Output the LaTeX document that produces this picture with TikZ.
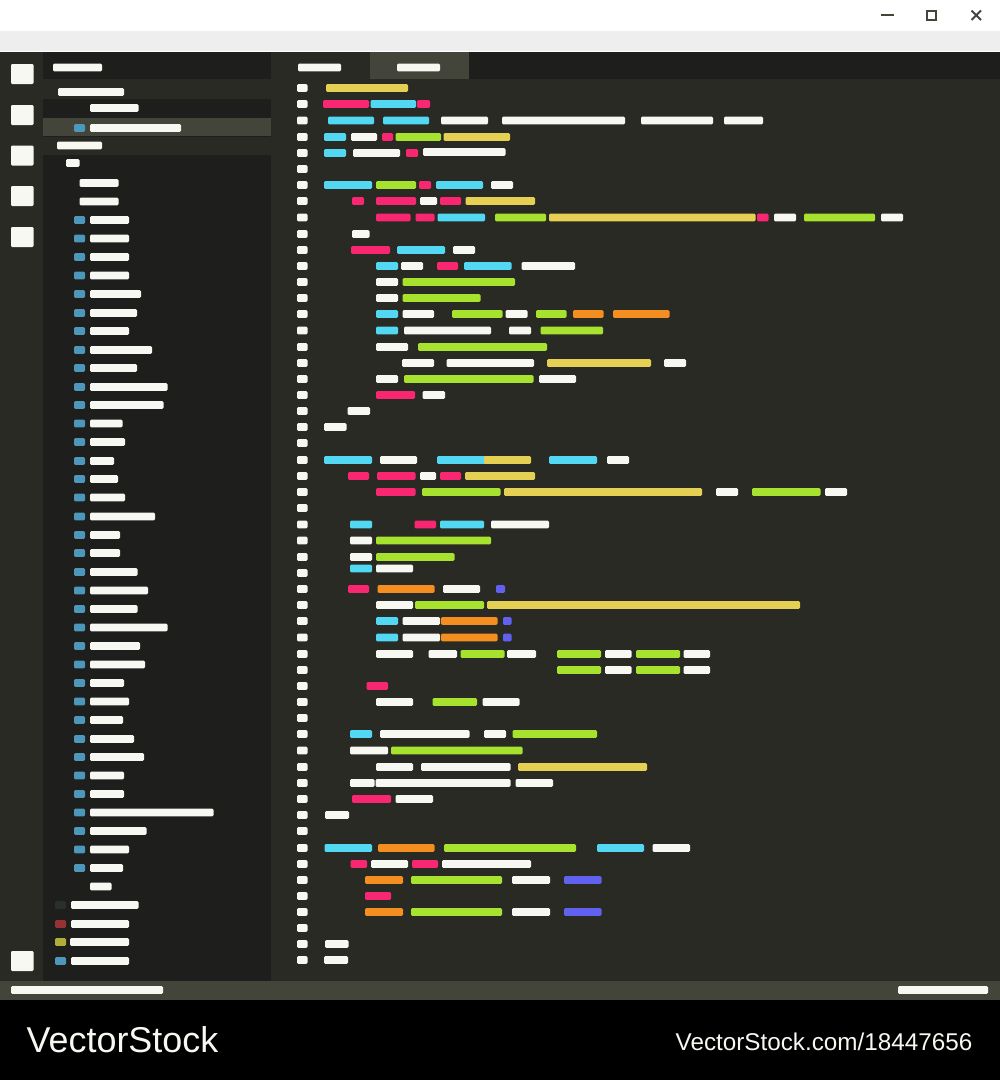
\documentclass[tikz,border=0pt]{standalone}
\usepackage{fontspec}
\setmainfont{Liberation Sans}
\definecolor{wht}{HTML}{F8F8F2}
\definecolor{pnk}{HTML}{F92672}
\definecolor{cyn}{HTML}{52D8F2}
\definecolor{grn}{HTML}{A6E22E}
\definecolor{ylw}{HTML}{E6D054}
\definecolor{org}{HTML}{F58E20}
\definecolor{blu}{HTML}{6161F0}
\definecolor{stl}{HTML}{4D97BA}
\definecolor{panel}{HTML}{292A24}
\definecolor{dark}{HTML}{1E1E1C}
\definecolor{hilite}{HTML}{43443A}
\definecolor{strip}{HTML}{EEEEEE}
\newcommand{\bars}[2]{\foreach \a/\b/\c in {#2} \fill[\c,rounded corners=1.2pt] (\a,#1-3.8) rectangle (\b,#1+3.8);}
\newcommand{\gut}[1]{\foreach \y in {#1} \fill[wht,rounded corners=1.2pt] (297,\y-3.8) rectangle (307.5,\y+3.8);}
\newcommand{\side}[2]{\foreach \y/\b in {#2} {\fill[stl,rounded corners=1.2pt] (74,\y-3.8) rectangle (85,\y+3.8);
  \fill[wht,rounded corners=1.2pt] (#1,\y-3.8) rectangle (\b,\y+3.8);}}
\begin{document}
\begin{tikzpicture}[x=1pt,y=-1pt]
\useasboundingbox (0,0) rectangle (1000,1080);
\tikzstyle{every node}=[inner sep=0pt,text=wht,anchor=base west]
\fill[white] (0,0) rectangle (1000,52);
\fill[strip] (0,31) rectangle (1000,50.5);
\fill[panel] (0,52) rectangle (1000,981);
\fill[dark] (43,52) rectangle (271,981);
\fill[dark] (469,52) rectangle (1000,79);
\fill[hilite] (370,52) rectangle (469,79);
\fill[panel] (43,79) rectangle (271,99);
\fill[hilite] (43,118) rectangle (271,136);
\fill[panel] (43,137) rectangle (271,155);
\fill[hilite] (0,981) rectangle (1000,1000);
\fill[black] (0,1000) rectangle (1000,1080);
\draw[hilite,line width=2pt] (880.5,15) -- (893.5,15);
\draw[hilite,line width=2pt] (926.5,10.5) rectangle (935.5,19.5);
\draw[hilite,line width=2pt] (971.5,10.5) -- (981,20)
      (981,10.5) -- (971.5,20);
\foreach \y in {74,115,155.5,196,237,961}
  \fill[wht,rounded corners=1.2pt] (11,\y-10) rectangle (33.5,\y+10);
\bars{67.5}{53/102/wht,298/341/wht,397/440/wht}
\bars{92}{58/124/wht}
\bars{108}{90/138.5/wht}
\bars{145.5}{57/102/wht}
\bars{163}{66/79.5/wht}
\bars{183}{79.5/118.5/wht}
\bars{201.5}{79.5/118.5/wht}
\side{90}{128/181,220/129,238.5/129,257/129,275.5/129,294/141,313/137,331/129,350/152,368/137,
  387/167.5,405/163.5,423.5/122.5,442/125,461/114,479/118,497.5/125,516.5/155,535/120,553/120,
  572/137.5,590.5/148,609/137.5,627.5/167.5,646/140,664.5/145,683/124,701.5/129,720/123,739/134,
  757/144,775.5/124,794/124,812.5/213.5,831/146.5,849.5/129,868/123}
\bars{886.5}{90/111.5/wht}
\definecolor{dot1}{HTML}{2B2F2C}\definecolor{dot2}{HTML}{963233}\definecolor{dot3}{HTML}{B0AE3A}
\bars{905}{55/66/dot1,71/138.5/wht}
\bars{924}{55/66/dot2,71/129/wht}
\bars{942}{55/66/dot3,70/129/wht}
\bars{961}{55/66/stl,71/129/wht}
\bars{990}{11/163/wht,898/988/wht}
\gut{88,104,120.5,137,153,169,185,201,217.5,234,250,266,282,298,314,330.5,347,363,379,395,411,427,443,
  460,476,492,508,524.5,540.5,557,573,589,605,621,637.5,654,670,686,702,718,734,750.5,767,783,799,815,831,
  848,864,880,896,912,928,944,960}
\bars{88}{326/408/ylw}
\bars{104}{323/369/pnk,370.5/416/cyn,417/430/pnk}
\bars{120.5}{328/374/cyn,383/429/cyn,441/488/wht,502/625/wht,641/713/wht,724/763/wht}
\bars{137}{324/346/cyn,351/377/wht,382/393/pnk,395.5/441/grn,443.5/510/ylw}
\bars{153}{324/346/cyn,353/400/wht,406/418/pnk}
\bars{152}{423/505.5/wht}
\bars{185}{324/372/cyn,376/416/grn,419/431/pnk,436/483/cyn,491/513/wht}
\bars{201}{352/364/pnk,376/416/pnk,420/437/wht,440/461/pnk,465.5/535/ylw}
\bars{217.5}{376/410.5/pnk,415.5/434.5/pnk,437.5/485/cyn,495/546/grn,549/755.5/ylw,757/768.5/pnk,774/796/wht,804/875/grn,881/903/wht}
\bars{234}{352/369.5/wht}
\bars{250}{351/390/pnk,397/445/cyn,453/475/wht}
\bars{266}{376/398/cyn,401/423/wht,437/458/pnk,464/511.5/cyn,521.5/575/wht}
\bars{282}{376/398/wht,402.5/515/grn}
\bars{298}{376/398/wht,402.5/480.5/grn}
\bars{314}{376/398/cyn,402.5/434/wht,452/502.5/grn,505.5/527.5/wht,536/566.5/grn,573/603.5/org,613/669.5/org}
\bars{330.5}{376/398/cyn,404/491/wht,509/531/wht,540.5/603/grn}
\bars{347}{376/408/wht,418/547/grn}
\bars{363}{402/434/wht,446.5/534/wht,547/651/ylw,664/686/wht}
\bars{379}{376/398/wht,404/533.5/grn,539/576/wht}
\bars{395}{376/415/pnk,422.5/445/wht}
\bars{411}{347.5/370/wht}
\bars{427}{324/346.5/wht}
\bars{460}{324/372/cyn,380/417/wht,437/486/cyn,484/531/ylw,549/597/cyn,607/629/wht}
\bars{476}{348/369/pnk,377/415.5/pnk,420/436/wht,440/461/pnk,465/535/ylw}
\bars{492}{376/415.5/pnk,422/500.5/grn,504/702/ylw,716/738/wht,752/820.5/grn,825/847/wht}
\bars{524.5}{350/372/cyn,414.5/436/pnk,440/484/cyn,491/549/wht}
\bars{540.5}{350/372/wht,376/491/grn}
\bars{557}{350/372/wht,376/454.5/grn}
\bars{568.5}{350/372/cyn,376/413/wht}
\bars{589}{348/369/pnk,377.5/434.5/org,443/480/wht,496/505/blu}
\bars{605}{376/413/wht,415/484/grn,487/800/ylw}
\bars{621}{376/398/cyn,402.5/440/wht,441/497.5/org,503/511.5/blu}
\bars{637.5}{376/398/cyn,402.5/440/wht,441/497.5/org,503/511.5/blu}
\bars{654}{376/413/wht,428.5/457/wht,460.5/504.5/grn,507/536/wht,557/601/grn,605/631.5/wht,636/680/grn,683.5/710/wht}
\bars{670}{557/601/grn,605/631.5/wht,636/680/grn,683.5/710/wht}
\bars{686}{366.5/388/pnk}
\bars{702}{376/413/wht,432.5/477/grn,482.5/519.5/wht}
\bars{734}{350/372/cyn,380/469.5/wht,484/506/wht,512.5/597/grn}
\bars{750.5}{350/388/wht,391/522.5/grn}
\bars{767}{376/413/wht,421/510.5/wht,518/647/ylw}
\bars{783}{350/374.5/wht,375.5/510.5/wht,515.5/553/wht}
\bars{799}{352/391/pnk,395.5/433/wht}
\bars{815}{325/349/wht}
\bars{848}{324.5/372/cyn,378/434.5/org,444/576/grn,597/644/cyn,652.5/690/wht}
\bars{864}{350.5/367/pnk,371/408/wht,412/438/pnk,442/531/wht}
\bars{880}{365/403/org,411/502/grn,512/550/wht,564/601.5/blu}
\bars{896}{365/391/pnk}
\bars{912}{365/403/org,411/502/grn,512/550/wht,564/601.5/blu}
\bars{944}{325/348.5/wht}
\bars{960}{324/348/wht}
\node at (26.5,1052.7) (brand) {\fontsize{35.9}{36}\selectfont VectorStock};
\node at (675.5,1050.7) (url) {\fontsize{24.25}{25}\selectfont VectorStock.com/18447656};
\end{tikzpicture}
\end{document}
